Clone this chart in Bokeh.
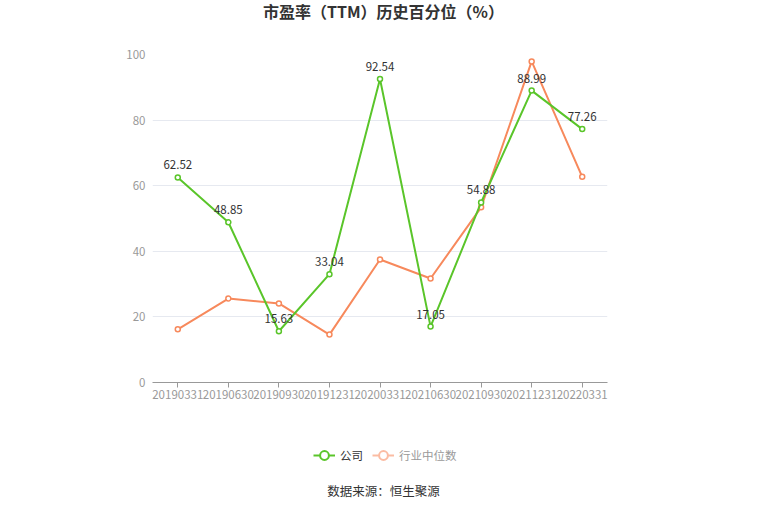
from bokeh.plotting import figure
from bokeh.layouts import column
from bokeh.models import ColumnDataSource, Legend, LegendItem, Label, FixedTicker, Range1d
from bokeh.core.properties import value
from bokeh.embed import file_html
from bokeh.resources import INLINE

dates = ["20190331", "20190630", "20190930", "20191231", "20200331",
         "20210630", "20210930", "20211231", "20220331"]
company = [62.52, 48.85, 15.63, 33.04, 92.54, 17.05, 54.88, 88.99, 77.26]
industry = [16.2, 25.6, 24.1, 14.6, 37.5, 31.7, 53.4, 97.9, 62.7]
y_ticks = [0, 20, 40, 60, 80, 100]

FONT = "Noto Sans CJK SC"
GREEN = "#5ac52a"
ORANGE = "#f7895c"
W = 749
LEFT, RIGHT = 152, 142
NAN = float("nan")


def blank(h):
    f = figure(width=W, height=h, x_range=Range1d(LEFT, W - RIGHT), y_range=Range1d(0, h),
               output_backend="svg", toolbar_location=None,
               x_axis_location=None, y_axis_location=None,
               min_border_left=LEFT, min_border_right=RIGHT, min_border_top=0, min_border_bottom=0)
    f.grid.visible = False
    f.outline_line_color = None
    f.background_fill_color = "white"
    f.border_fill_color = "white"
    return f


# header with title
head = blank(30)
head.add_layout(Label(x=383, y=20, text="市盈率（TTM）历史百分位（%）", text_font=FONT,
                      text_font_size="16px", text_color="#333333", text_font_style="bold",
                      text_align="center", text_baseline="middle"))

# main chart
p = figure(x_range=dates, y_range=Range1d(0, 100), width=W, height=390,
           output_backend="svg", toolbar_location=None,
           min_border_left=LEFT, min_border_right=RIGHT, min_border_top=24, min_border_bottom=38)
p.outline_line_color = None
p.background_fill_color = "white"
p.border_fill_color = "white"

p.xgrid.grid_line_color = None
p.ygrid.grid_line_color = "#e6e9f0"
p.ygrid.grid_line_width = 1

p.yaxis.ticker = FixedTicker(ticks=y_ticks)
p.yaxis.axis_line_color = None
p.yaxis.major_tick_line_color = None
p.yaxis.major_tick_out = 0
p.yaxis.major_tick_in = 0
p.yaxis.minor_tick_line_color = None
p.yaxis.major_label_text_font = FONT
p.yaxis.major_label_text_font_size = "11.5px"
p.yaxis.major_label_text_color = "#999999"
p.yaxis.major_label_standoff = 7

p.xaxis.axis_line_color = "#999999"
p.xaxis.major_tick_line_color = "#999999"
p.xaxis.major_tick_in = 0
p.xaxis.major_tick_out = 5
p.xaxis.major_label_text_font = FONT
p.xaxis.major_label_text_font_size = "11.5px"
p.xaxis.major_label_text_color = "#999999"
p.xaxis.major_label_standoff = 2

src = ColumnDataSource(dict(x=dates, c=company, i=industry,
                            cl=[f"{v:.2f}" for v in company]))

p.line("x", "i", source=src, line_color=ORANGE, line_width=2)
p.scatter("x", "i", source=src, marker="circle", size=5, line_color=ORANGE,
          fill_color="white", line_width=1.5)
p.line("x", "c", source=src, line_color=GREEN, line_width=2)
p.scatter("x", "c", source=src, marker="circle", size=5, line_color=GREEN,
          fill_color="white", line_width=1.5)
p.text("x", "c", text="cl", source=src, text_font=value(FONT), text_font_size="11.5px",
       text_color="#333333", text_align="center", text_baseline="bottom", y_offset=-8)

# footer with legend and source
foot = blank(81)
lg1 = foot.line([NAN], [NAN], line_color=GREEN, line_width=2)
lg1m = foot.scatter([NAN], [NAN], marker="circle", size=9, line_color=GREEN,
                    fill_color="white", line_width=2)
lg2 = foot.line([NAN], [NAN], line_color="#fbbca3", line_width=2)
lg2m = foot.scatter([NAN], [NAN], marker="circle", size=9, line_color="#fbbca3",
                    fill_color="white", line_width=2)

common = dict(orientation="horizontal", label_text_font=FONT, label_text_font_size="11.5px",
              glyph_width=22, glyph_height=24, label_standoff=5, padding=0, margin=0,
              border_line_color=None, background_fill_alpha=0)
foot.add_layout(Legend(items=[LegendItem(label="公司", renderers=[lg1, lg1m])],
                       location=(313 - LEFT, 34), label_text_color="#333333", **common), "center")
foot.add_layout(Legend(items=[LegendItem(label="行业中位数", renderers=[lg2, lg2m])],
                       location=(372 - LEFT, 34), label_text_color="#999999", **common), "center")
foot.add_layout(Label(x=383, y=11, text="数据来源：恒生聚源", text_font=FONT,
                      text_font_size="12.5px", text_color="#333333",
                      text_align="center", text_baseline="middle"))

layout = column(head, p, foot, spacing=0)
open("out.html", "w").write(file_html(layout, INLINE))
